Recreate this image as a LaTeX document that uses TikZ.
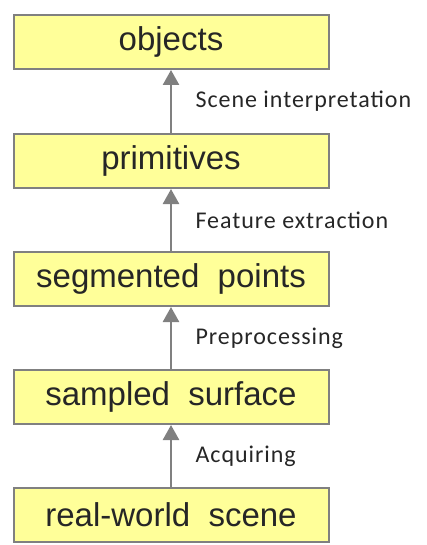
\documentclass[tikz,border=0pt]{standalone}
\usepackage{fontspec}
\setmainfont{Liberation Sans}
\newfontfamily\lblfont[LetterSpace=4]{Carlito}
\usepackage{tikz}
\usetikzlibrary{arrows.meta}
\definecolor{boxfill}{HTML}{FFFF99}
\definecolor{boxline}{HTML}{808080}
\definecolor{txt}{HTML}{262626}

\begin{document}
\begin{tikzpicture}[x=1pt, y=-1pt,
  stage/.style={draw=boxline, line width=2pt, fill=boxfill, text=txt,
    minimum width=315pt, minimum height=54pt, inner sep=0pt,
    font=\fontsize{33}{40}\selectfont},
  flow/.style={boxline, line width=2.5pt, -{Triangle[length=15pt,width=16pt]}},
  lbl/.style={text=txt, font=\lblfont\fontsize{24}{29}\selectfont}]
\useasboundingbox (0,0) rectangle (426,545);
\node[stage] (objects) at (171,42) {objects};
\node[stage] (primitives) at (171,161) {primitives};
\node[stage] (segmented) at (171,279) {segmented\ \ points};
\node[stage] (sampled) at (171,397) {sampled\ \ surface};
\node[stage] (scene) at (171,515) {real-world\ \ scene};
\foreach\from/\to/\what in {scene/sampled/Acquiring,
  sampled/segmented/Preprocessing,
  segmented/primitives/Feature extraction,
  primitives/objects/Scene interpretation}{
  \draw[flow] (\from) -- (\to) node[lbl, midway, right=20pt] {\what};
}
\end{tikzpicture}
\end{document}
